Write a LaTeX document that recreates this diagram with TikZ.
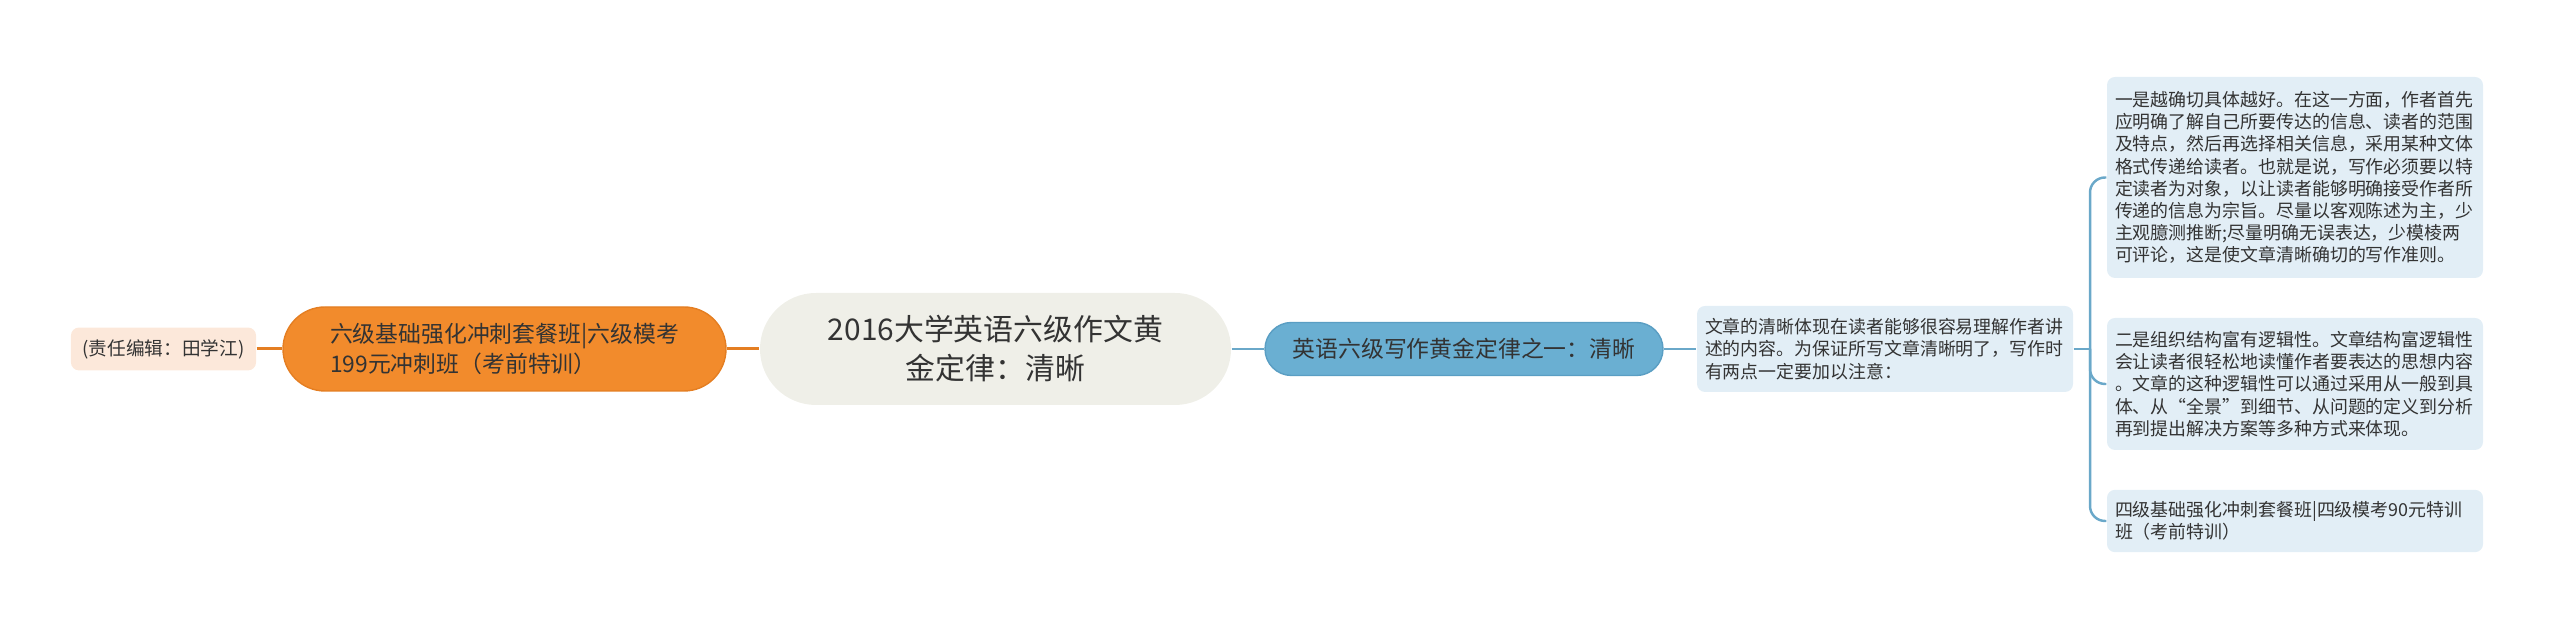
\documentclass[tikz,border=0pt]{standalone}
\usepackage{fontspec}
\setmainfont{Noto Sans CJK SC}

\definecolor{rootfill}{HTML}{EFEFE8}
\definecolor{orangefill}{HTML}{F28B2C}
\definecolor{orangeedge}{HTML}{E47E22}
\definecolor{tagfill}{HTML}{FCE8DA}
\definecolor{bluefill}{HTML}{6AAFD2}
\definecolor{blueedge}{HTML}{5A9EC3}
\definecolor{blueline}{HTML}{6AA8C9}
\definecolor{leaffill}{HTML}{E2EEF6}
\definecolor{inkgrey}{HTML}{333333}

\tikzset{
  titlebox/.style={fill=rootfill, rounded corners=0.56cm, minimum width=4.71cm, minimum height=1.12cm,
    align=center, text=inkgrey, font=\fontsize{8.5}{11.1}\selectfont},
  orangebox/.style={fill=orangefill, draw=orangeedge, line width=0.4pt, rounded corners=0.42cm,
    minimum width=4.43cm, minimum height=0.84cm, align=left, text=inkgrey, font=\fontsize{6.5}{8.5}\selectfont},
  bluebox/.style={fill=bluefill, draw=blueedge, line width=0.4pt, rounded corners=0.265cm,
    minimum width=3.98cm, minimum height=0.53cm, text=inkgrey, font=\fontsize{6.5}{8.5}\selectfont},
  tagbox/.style={fill=tagfill, rounded corners=0.08cm, minimum width=1.73cm, minimum height=0.40cm,
    text=inkgrey, font=\fontsize{5.3}{6.4}\selectfont},
  leafbox/.style={fill=leaffill, rounded corners=0.08cm, text width=3.6cm, inner xsep=0.08cm,
    align=left, text=inkgrey, font=\fontsize{5.1}{6.3}\selectfont},
  orangelink/.style={draw=orangeedge, line width=0.85pt},
  bluelink/.style={draw=blueline, line width=0.7pt},
}

\begin{document}
\begin{tikzpicture}
    \useasboundingbox (0,3.49) rectangle (25.6,-2.81);
    \draw (1.635,0)   node (tag)   [tagbox] {(责任编辑：田学江)};
    \draw (5.045,0)   node (six)   [orangebox] {六级基础强化冲刺套餐班|六级模考\\199元冲刺班（考前特训）};
    \draw (9.955,0)   node (title) [titlebox] {2016大学英语六级作文黄\\金定律：清晰};
    \draw (14.64,0)   node (rule)  [bluebox] {英语六级写作黄金定律之一：清晰};
    \draw (18.85,0)   node (clear) [leafbox, minimum height=0.86cm] {文章的清晰体现在读者能够很容易理解作者讲\\述的内容。为保证所写文章清晰明了，写作时\\有两点一定要加以注意：};
    \draw (22.95,1.715) node (one) [leafbox, minimum height=2.01cm] {一是越确切具体越好。在这一方面，作者首先\\应明确了解自己所要传达的信息、读者的范围\\及特点，然后再选择相关信息，采用某种文体\\格式传递给读者。也就是说，写作必须要以特\\定读者为对象，以让读者能够明确接受作者所\\传递的信息为宗旨。尽量以客观陈述为主，少\\主观臆测推断;尽量明确无误表达，少模棱两\\可评论，这是使文章清晰确切的写作准则。};
    \draw (22.95,-0.35) node (two) [leafbox, minimum height=1.32cm] {二是组织结构富有逻辑性。文章结构富逻辑性\\会让读者很轻松地读懂作者要表达的思想内容\\。文章的这种逻辑性可以通过采用从一般到具\\体、从“全景”到细节、从问题的定义到分析\\再到提出解决方案等多种方式来体现。};
    \draw (22.95,-1.72) node (three) [leafbox, minimum height=0.62cm] {四级基础强化冲刺套餐班|四级模考90元特训\\班（考前特训）};
    \coordinate (fork) at (20.9,0);
    \draw[orangelink] (tag) edge (six);
    \draw[orangelink] (six) edge (title);
    \draw[bluelink] (title) edge (rule);
    \draw[bluelink] (rule) edge (clear);
    \draw[bluelink] (clear) -- (fork);
    \draw[bluelink, rounded corners=0.15cm] (fork) |- (one);
    \draw[bluelink, rounded corners=0.15cm] (fork) |- (two);
    \draw[bluelink, rounded corners=0.15cm] (fork) |- (three);
\end{tikzpicture}
\end{document}
